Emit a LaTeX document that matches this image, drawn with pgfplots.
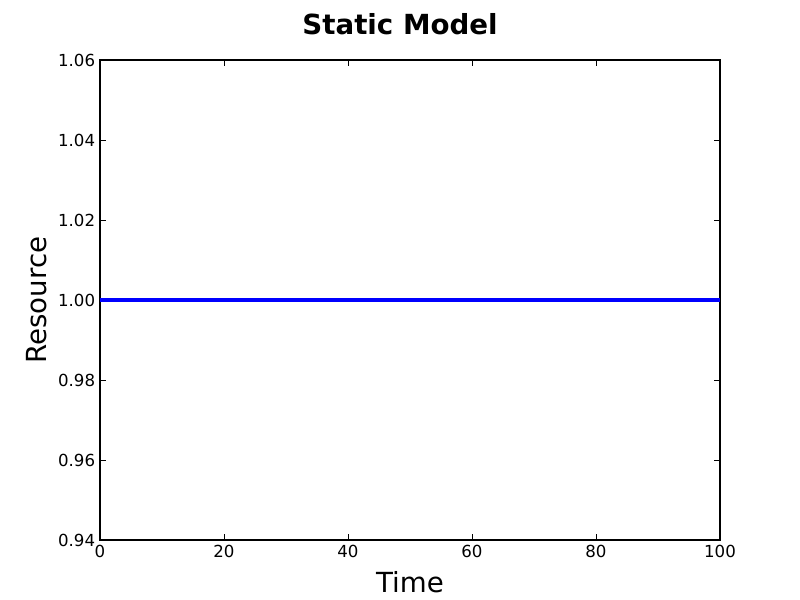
\documentclass[border=0pt]{standalone}
\usepackage{fontspec}
\setmainfont{DejaVu Sans}
\usepackage{pgfplots}
\pgfplotsset{compat=1.18}

\begin{document}
\begin{tikzpicture}
% page is 8in x 6in; axis box from (1in,0.6in) to (7.2in,5.4in)
\path[use as bounding box] (-1in,-0.6in) rectangle (7in,5.4in);
\begin{axis}[
    at={(0,0)}, anchor=south west,
    scale only axis,
    width=6.2in, height=4.8in,
    xmin=0, xmax=100, ymin=0.94, ymax=1.06,
    xtick={0,20,40,60,80,100},
    ytick={0.94,0.96,0.98,1.00,1.02,1.04,1.06},
    yticklabel style={/pgf/number format/.cd, fixed, fixed zerofill, precision=2},
    /pgf/number format/assume math mode=true,
    tick label style={font=\fontsize{12}{14}\selectfont},
    tick align=inside,
    major tick length=4pt,
    axis line style={line width=0.8pt},
    tick style={black, line width=0.5pt},
    title={\bfseries Static Model},
    title style={font=\fontsize{20}{24}\selectfont, at={(axis description cs:0.4839,1)}, anchor=center, yshift=0.28in},
    xlabel={Time},
    ylabel={Resource},
    xlabel style={font=\fontsize{20}{24}\selectfont, at={(axis description cs:0.5,0)}, anchor=center, yshift=-0.42in},
    ylabel style={font=\fontsize{20}{24}\selectfont, at={(axis description cs:-0.1016,0.5)}, anchor=center},
    clip=false,
]
\addplot[blue, line width=2.2pt] coordinates {(0,1.0) (100,1.0)};
\end{axis}
\end{tikzpicture}
\end{document}
